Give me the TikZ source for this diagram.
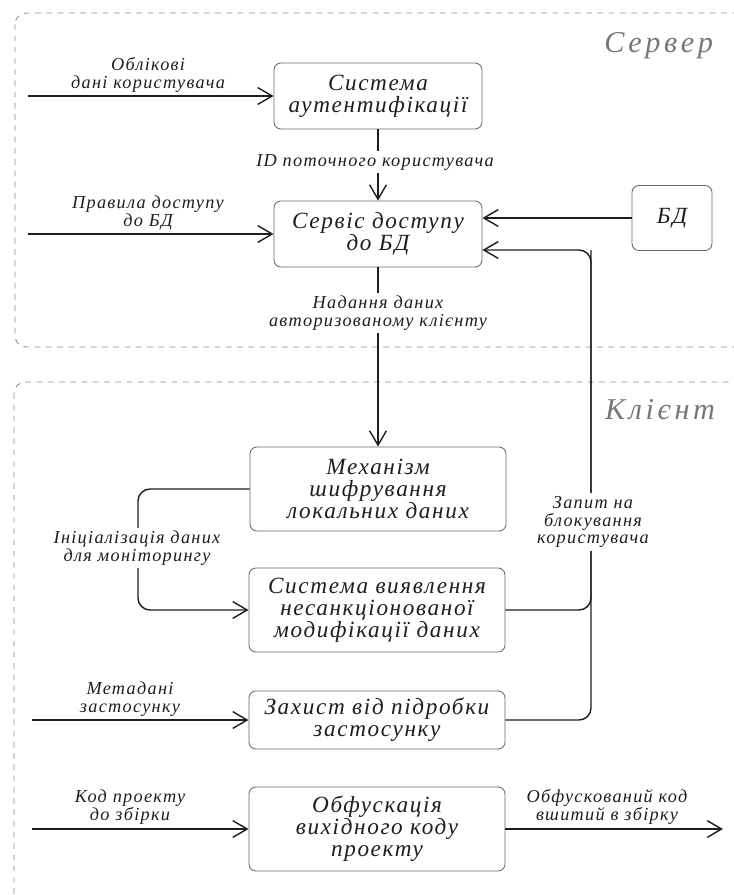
\documentclass[tikz,border=0pt]{standalone}
\usepackage{fontspec}
\setmainfont{Liberation Serif}[LetterSpace=7]
\usepackage{tikz}
\usetikzlibrary{positioning,arrows.meta,calc}

\definecolor{boxline}{HTML}{666666}
\definecolor{wire}{HTML}{1E1E1E}
\definecolor{zoneline}{HTML}{8A8A8A}
\definecolor{zonetext}{HTML}{777777}

\newcommand{\boxfont}{\fontsize{16.5}{15.6}\selectfont\itshape}
\newcommand{\lblfont}{\fontsize{13}{12.6}\selectfont\itshape}
\newcommand{\zonefont}{\fontsize{21.5}{22}\selectfont\itshape\addfontfeatures{LetterSpace=12}}

\tikzset{
  blk/.style={draw=boxline, line width=0.6pt, rounded corners=5pt,
    align=center, font=\boxfont, text=wire, inner sep=0pt},
  lbl/.style={align=center, font=\lblfont, text=wire, fill=white, inner sep=2pt},
  flow/.style={draw=wire, line width=1pt, -{Straight Barb[length=3.6mm,width=4.2mm]}},
  wireline/.style={draw=wire, line width=1pt},
  zone/.style={draw=zoneline, line width=0.6pt, dash pattern=on 4pt off 4pt,
    rounded corners=8pt},
  zonetitle/.style={font=\zonefont, text=zonetext, anchor=base east}
}

\begin{document}
\begin{tikzpicture}[x=0.025cm, y=-0.025cm]
  \useasboundingbox (0,0) rectangle (734,895);
  \clip (0,0) rectangle (734,895);
  % zones
  \draw[zone] (15,13) rectangle (770,347);
  \draw[zone] (14,382) rectangle (770,930);
  \node[zonetitle] (srvtitle) at (718,52) {Сервер};
  \node[zonetitle] (clttitle) at (720,419) {Клієнт};
  % server blocks
  \node[blk, minimum width=5.2cm, minimum height=1.65cm] (auth) at (378,96)
    {Система\\аутентифікації};
  \node[blk, minimum width=5.2cm, minimum height=1.65cm] (access) at (378,234)
    {Сервіс доступу\\до БД};
  \node[blk, minimum width=2cm, minimum height=1.625cm] (db) at (672,218) {БД};
  % client blocks
  \node[blk, minimum width=6.4cm, minimum height=2.1cm] (encrypt) at (378,489)
    {Механізм\\шифрування\\локальних даних};
  \node[blk, minimum width=6.4cm, minimum height=2.1cm] (detect) at (377,610)
    {Система виявлення\\несанкціонованої\\модифікації даних};
  \node[blk, minimum width=6.4cm, minimum height=1.45cm] (protect) at (377,720)
    {Захист від підробки\\застосунку};
  \node[blk, minimum width=6.4cm, minimum height=2.1cm] (obf) at (377,829)
    {Обфускація\\вихідного коду\\проекту};
  % free ends
  \coordinate (credin) at (28,96);
  \coordinate (rulesin) at (28,234);
  \coordinate (metain) at (32,720);
  \coordinate (codein) at (32,829);
  \coordinate (buildout) at (723,829);
  \coordinate (ret) at (591,250);
  \coordinate (initx) at (138,550);
  % connectors
  \draw[flow] (credin) -- (auth.west);
  \draw[flow] (rulesin) -- (access.west);
  \draw[flow] (auth) -- (access);
  \draw[flow] (db.west) -- (db.west -| access.east);
  \draw[flow] (access) -- (encrypt);
  \draw[flow, rounded corners=3mm] (protect.east) -| (ret) -- (ret -| access.east);
  \draw[wireline, rounded corners=3mm] (detect.east) -| (ret);
  \draw[flow, rounded corners=3mm] (encrypt.west) -- (encrypt.west -| initx)
    -- (detect.west -| initx) -- (detect.west);
  \draw[flow] (metain) -- (protect.west);
  \draw[flow] (codein) -- (obf.west);
  \draw[flow] (obf.east) -- (buildout);
  % labels
  \node[lbl, fill=none] (credlbl) at (148,75) {Облікові\\дані користувача};
  \node[lbl, fill=none] (ruleslbl) at (148,213) {Правила доступу\\до БД};
  \node[lbl] (idlbl) at (375,162) {ID поточного користувача};
  \node[lbl] (grantlbl) at (378,313) {Надання даних\\авторизованому клієнту};
  \node[lbl] (initlbl) at (137,548) {Ініціалізація даних\\для моніторингу};
  \node[lbl] (blocklbl) at (593,522) {Запит на\\блокування\\користувача};
  \node[lbl, fill=none] (metalbl) at (130,699) {Метадані\\застосунку};
  \node[lbl, fill=none] (codelbl) at (130,807) {Код проекту\\до збірки};
  \node[lbl, fill=none] (outlbl) at (607,807) {Обфускований код\\вшитий в збірку};
\end{tikzpicture}
\end{document}
